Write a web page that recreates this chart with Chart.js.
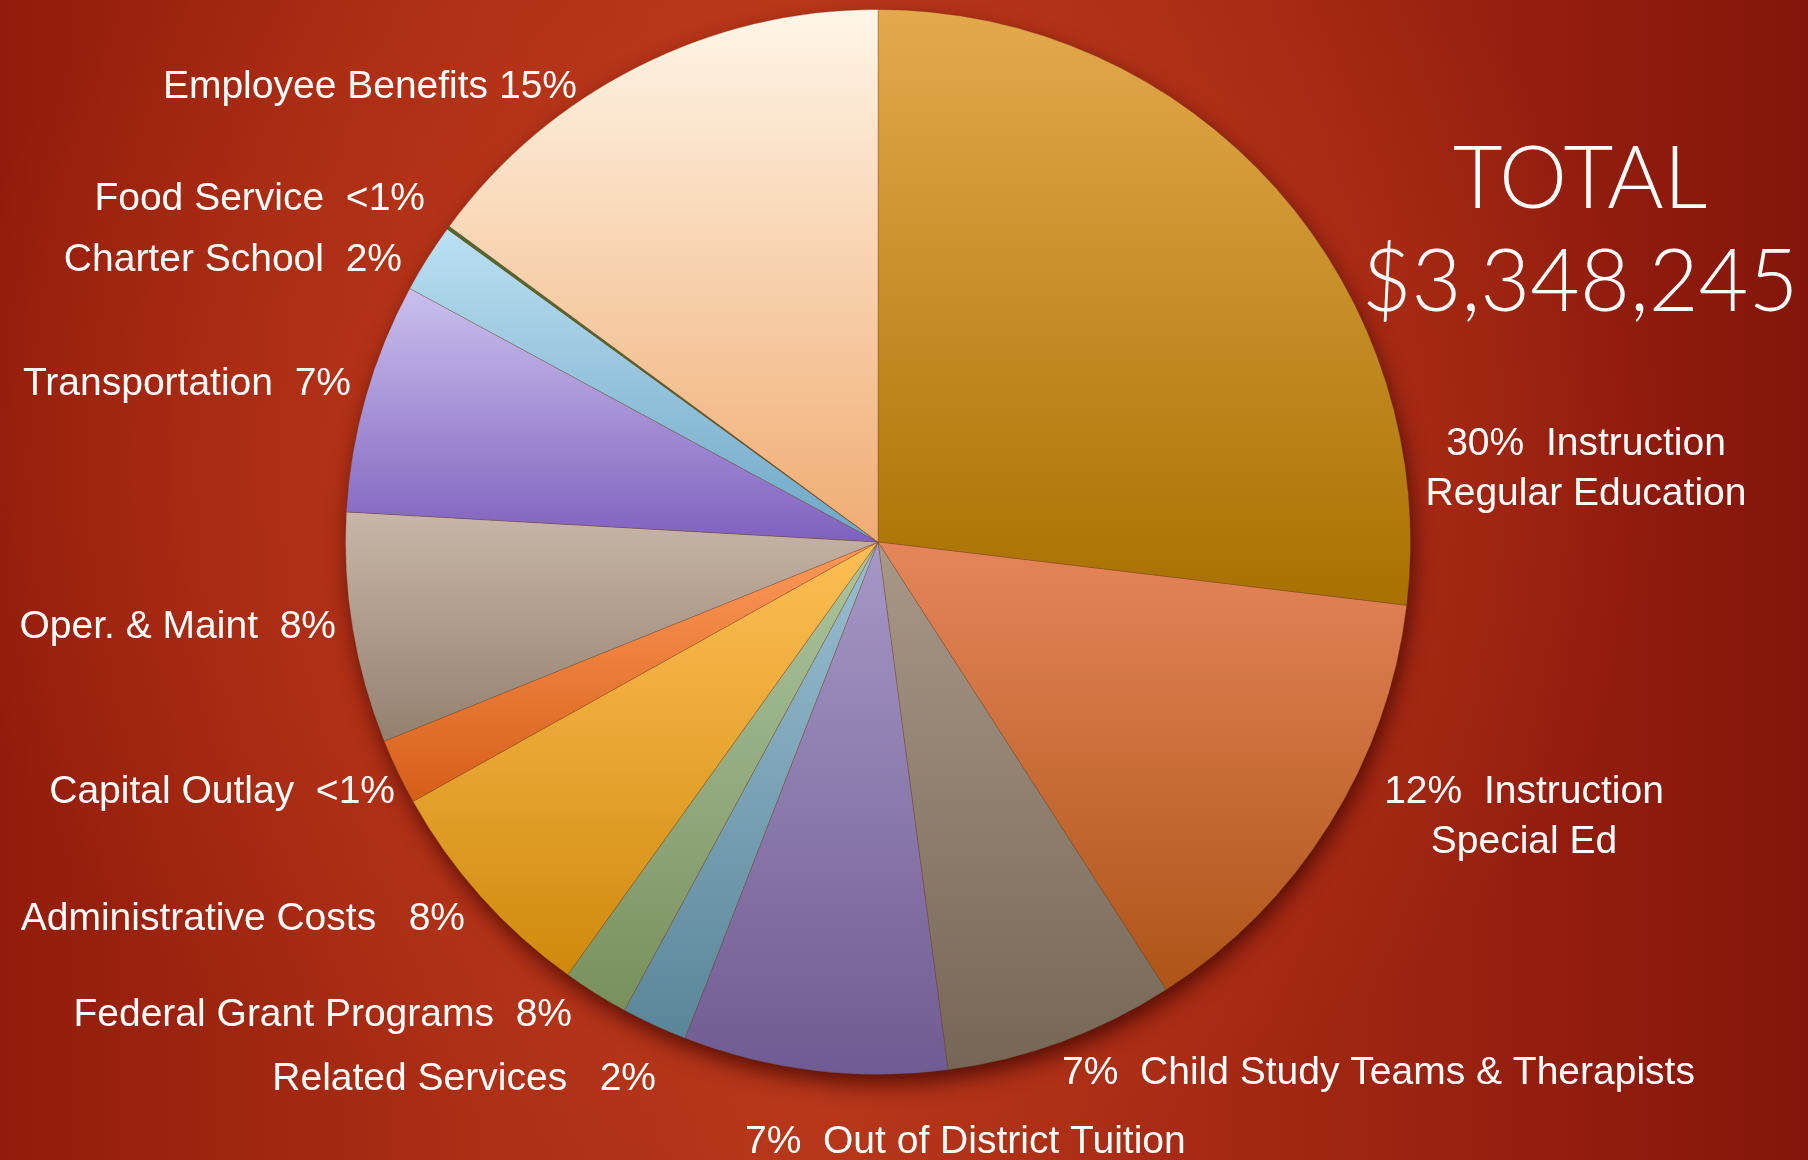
<!DOCTYPE html>
<html lang="en">
<head>
<meta charset="UTF-8">
<script src="https://cdn.jsdelivr.net/npm/chart.js@4.4.0/dist/chart.umd.min.js"></script>
<title>Budget Breakdown</title>
<style>
  html, body { margin: 0; padding: 0; width: 1808px; height: 1160px; overflow: hidden; }
  body {
    background:
      radial-gradient(ellipse 48% 62% at 44% 40%, rgba(204,68,28,0.95) 0%, rgba(190,56,26,0.55) 50%, rgba(150,30,14,0) 100%),
      linear-gradient(90deg, #921c0b 0%, #ad3016 28%, #b7371a 45%, #a32813 70%, #85150a 100%);
  }
  #chart-box { position: relative; width: 1808px; height: 1160px; }
</style>
</head>
<body>
<div id="chart-box">
  <canvas id="budgetChart" width="1808" height="1160"></canvas>
</div>
<script>
// slices, clockwise from 12 o'clock
var categories = [
  "Instruction Regular Education", "Instruction Special Ed", "Child Study Teams & Therapists",
  "Out of District Tuition", "Related Services", "Federal Grant Programs", "Administrative Costs",
  "Capital Outlay", "Oper. & Maint", "Transportation", "Charter School", "Food Service", "Employee Benefits"
];
// share of the pie (percent)
var shares = [26.9, 14.0, 7.0, 8.0, 2.0, 2.0, 7.0, 2.0, 7.0, 7.0, 2.1, 0.1, 14.9];
// percent text printed next to each slice
var shownPct = ["30%", "12%", "7%", "7%", "2%", "8%", "8%", "<1%", "8%", "7%", "2%", "<1%", "15%"];
var totalText = ["TOTAL", "$3,348,245"];

var topColors = ["#e4a94c", "#e5865a", "#a89888", "#a698c6", "#9bbfd2", "#aec6a0", "#ffbf56",
                 "#ff9a5a", "#c8b6a8", "#cbc0ee", "#bce0f2", "#4f6b2c", "#fff6e8"];
var bottomColors = ["#a97102", "#ae5418", "#766656", "#6f5b93", "#5a8599", "#78905e", "#cf8a0c",
                    "#d55e18", "#94806f", "#7f61be", "#6da6c6", "#4f6b2c", "#f0ac72"];

// where each caption goes: [index, lines, x, baseline y, align]
var captionSpots = [
  [12, ["Employee Benefits " + shownPct[12]], 577, 98, "right"],
  [11, ["Food Service  " + shownPct[11]], 425, 210, "right"],
  [10, ["Charter School  " + shownPct[10]], 402, 271, "right"],
  [9,  ["Transportation  " + shownPct[9]], 351, 395, "right"],
  [8,  ["Oper. & Maint  " + shownPct[8]], 336, 638, "right"],
  [7,  ["Capital Outlay  " + shownPct[7]], 395, 803, "right"],
  [6,  ["Administrative Costs   " + shownPct[6]], 465, 930, "right"],
  [5,  ["Federal Grant Programs  " + shownPct[5]], 572, 1026, "right"],
  [4,  ["Related Services   " + shownPct[4]], 656, 1090, "right"],
  [3,  [shownPct[3] + "  Out of District Tuition"], 745, 1153, "left"],
  [2,  [shownPct[2] + "  Child Study Teams & Therapists"], 1062, 1084, "left"],
  [1,  [shownPct[1] + "  Instruction", "Special Ed"], 1524, 803, "center"],
  [0,  [shownPct[0] + "  Instruction", "Regular Education"], 1586, 455, "center"]
];

function sliceGradient(context) {
  var chart = context.chart;
  var area = chart.chartArea;
  var i = context.dataIndex;
  if (!area || i === undefined) return topColors[i] || "#ccc";
  var cx = (area.left + area.right) / 2, cy = (area.top + area.bottom) / 2;
  var r = Math.min(area.right - area.left, area.bottom - area.top) / 2;
  var sum = 0, before = 0;
  for (var k = 0; k < shares.length; k++) { sum += shares[k]; if (k < i) before += shares[k]; }
  var a0 = before / sum * 2 * Math.PI - Math.PI / 2;
  var a1 = (before + shares[i]) / sum * 2 * Math.PI - Math.PI / 2;
  var ys = [cy, cy + r * Math.sin(a0), cy + r * Math.sin(a1)];
  [-Math.PI / 2, Math.PI / 2, 3 * Math.PI / 2].forEach(function (a) {
    if (a > a0 && a < a1) ys.push(cy + r * Math.sin(a));
  });
  var y0 = Math.min.apply(null, ys), y1 = Math.max.apply(null, ys);
  if (y1 - y0 < 1) y1 = y0 + 1;
  var g = chart.ctx.createLinearGradient(0, y0, 0, y1);
  g.addColorStop(0, topColors[i]);
  g.addColorStop(1, bottomColors[i]);
  return g;
}

var pieShadow = {
  id: 'pieShadow',
  beforeDatasetsDraw: function (chart) {
    var arc = chart.getDatasetMeta(0).data[0];
    if (!arc) return;
    var ctx = chart.ctx;
    ctx.save();
    ctx.shadowColor = 'rgba(60,5,0,0.8)';
    ctx.shadowBlur = 22;
    ctx.shadowOffsetX = 3;
    ctx.shadowOffsetY = 10;
    ctx.fillStyle = '#7a2a10';
    ctx.beginPath();
    ctx.arc(arc.x, arc.y, arc.outerRadius - 1, 0, 2 * Math.PI);
    ctx.fill();
    ctx.restore();
  }
};

var captions = {
  id: 'captions',
  afterDraw: function (chart) {
    var ctx = chart.ctx;
    ctx.save();
    ctx.fillStyle = '#ffffff';
    ctx.textBaseline = 'alphabetic';
    ctx.font = '39px "Liberation Sans", Arial, sans-serif';
    captionSpots.forEach(function (c) {
      ctx.textAlign = c[4];
      c[1].forEach(function (line, n) {
        ctx.fillText(line, c[2], c[3] + n * 50);
      });
    });
    ctx.textAlign = 'center';
    ctx.font = '300 86px Lato, "DejaVu Sans", sans-serif';
    ctx.fillText(totalText[0], 1580, 208);
    ctx.font = '300 86px Lato, "DejaVu Sans", sans-serif';
    ctx.fillText(totalText[1], 1580, 311);
    ctx.restore();
  }
};

var ctx = document.getElementById('budgetChart').getContext('2d');
var budgetChart = new Chart(ctx, {
  type: 'pie',
  data: {
    labels: categories,
    datasets: [{
      data: shares,
      backgroundColor: sliceGradient,
      borderColor: 'rgba(110,60,30,0.3)',
      borderWidth: 1
    }]
  },
  options: {
    responsive: false,
    animation: false,
    layout: { padding: { left: 345, right: 397, top: 9, bottom: 85 } },
    plugins: {
      legend: { display: false },
      tooltip: { enabled: false }
    }
  },
  plugins: [pieShadow, captions]
});
</script>
</body>
</html>
